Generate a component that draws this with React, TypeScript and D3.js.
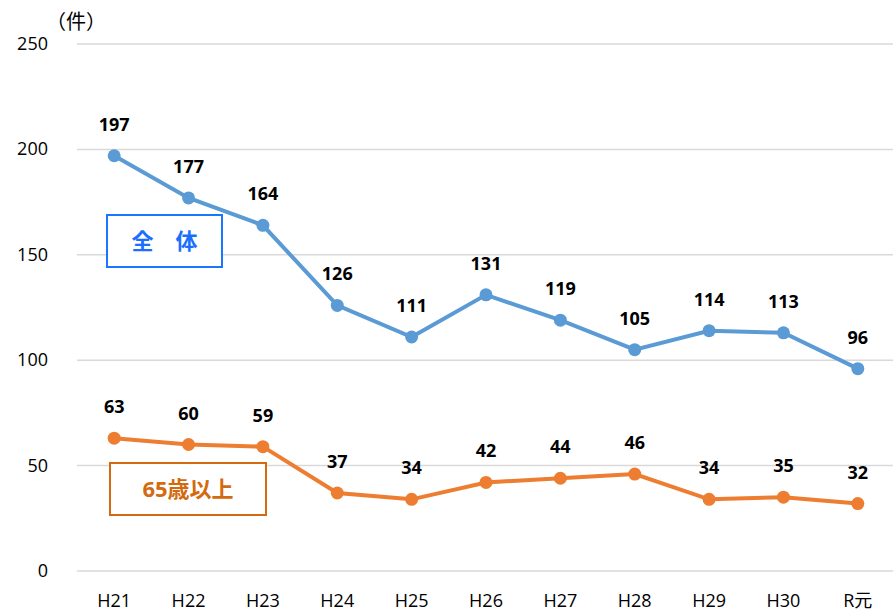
import React from "react";
import * as d3 from "d3";

const categories = ["H21", "H22", "H23", "H24", "H25", "H26", "H27", "H28", "H29", "H30", "R元"];
const totalValues = [197, 177, 164, 126, 111, 131, 119, 105, 114, 113, 96];
const elderlyValues = [63, 60, 59, 37, 34, 42, 44, 46, 34, 35, 32];
const yTicks = [0, 50, 100, 150, 200, 250];

const width = 893;
const height = 611;
const font = "'Open Sans', 'Noto Sans CJK JP', sans-serif";

export default function App() {
  const x = d3.scaleBand<string>().domain(categories).range([77, 895]);
  const y = d3.scaleLinear().domain([0, 250]).range([571, 44]);
  const cx = (c: string) => (x(c) ?? 0) + x.bandwidth() / 2;

  const line = d3
    .line<number>()
    .x((_, i) => cx(categories[i]))
    .y((d) => y(d));

  const series = [
    { values: totalValues, color: "#5B9BD5" },
    { values: elderlyValues, color: "#ED7D31" },
  ];

  return (
    <svg
      width={width}
      height={height}
      style={{ position: "absolute", left: 0, top: 0, background: "#fff" }}
      fontFamily={font}
    >
      {yTicks.map((t) => (
        <g key={t}>
          <line x1={77} x2={893} y1={y(t)} y2={y(t)} stroke="#d9d9d9" strokeWidth={1.5} />
          <text x={48} y={y(t) + 6} textAnchor="end" fontSize={18} fill="#000">
            {t}
          </text>
        </g>
      ))}
      <text x={46} y={29} fontSize={20} fill="#000">
        （件）
      </text>
      {categories.map((c) => (
        <text key={c} x={cx(c)} y={607} textAnchor="middle" fontSize={18} fill="#000">
          {c}
        </text>
      ))}
      {series.map((s, si) => (
        <g key={si}>
          <path d={line(s.values) ?? ""} fill="none" stroke={s.color} strokeWidth={4} />
          {s.values.map((v, i) => (
            <circle key={i} cx={cx(categories[i])} cy={y(v)} r={6.5} fill={s.color} />
          ))}
          {s.values.map((v, i) => (
            <text
              key={"t" + i}
              x={cx(categories[i])}
              y={y(v) - 25}
              textAnchor="middle"
              fontSize={18}
              fontWeight="bold"
              fill="#000"
            >
              {v}
            </text>
          ))}
        </g>
      ))}
      <rect x={107} y={215} width={115} height={52} fill="#fff" stroke="#1a75ff" strokeWidth={2} />
      <text x={164.5} y={249} textAnchor="middle" fontSize={22} fontWeight="bold" fill="#1a6fff">
        全　体
      </text>
      <rect x={110} y={463} width={156} height={52} fill="#fff" stroke="#d36a0f" strokeWidth={2} />
      <text x={188} y={497} textAnchor="middle" fontSize={22} fontWeight="bold" fill="#d36a0f">
        65歳以上
      </text>
    </svg>
  );
}
